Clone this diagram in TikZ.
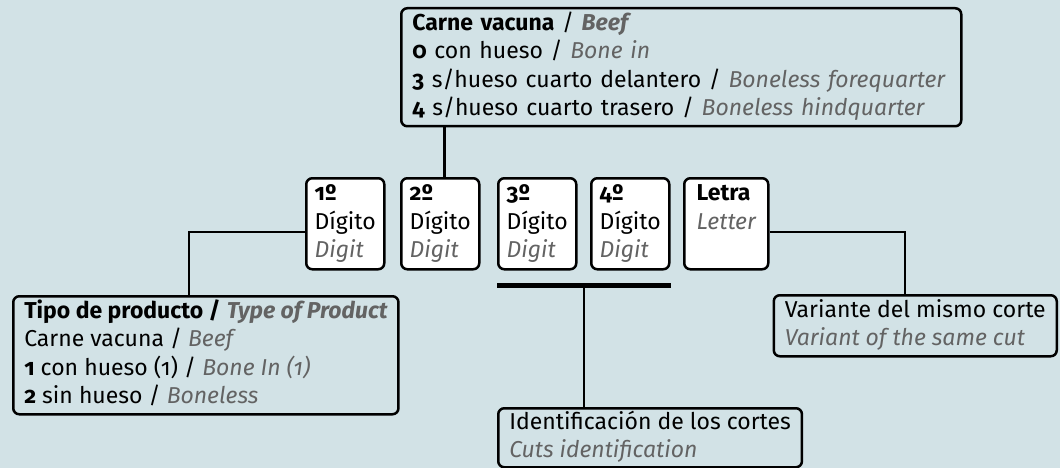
\documentclass[tikz,border=0pt]{standalone}
\usepackage{fontspec}
\setmainfont{Fira Sans}[Numbers=OldStyle]
\usetikzlibrary{calc}
\definecolor{bg}{HTML}{D2E2E6}
\definecolor{txtgray}{HTML}{636363}
\newcommand\gi[1]{\textcolor{txtgray}{\itshape #1}}
\newcommand\gb[1]{\textcolor{txtgray}{\bfseries\itshape #1}}
\begin{document}
\begin{tikzpicture}[x=1pt,y=-1pt,
  box/.style={draw, line width=2.5pt, rounded corners=6pt, align=left,
    inner xsep=11pt, inner ysep=2pt, anchor=north west,
    font=\fontsize{23}{28.5}\selectfont},
  dbox/.style={box, fill=white, minimum width=78pt, minimum height=91pt, inner xsep=4pt},
  conn/.style={line width=2.5pt},
  barline/.style={line width=5pt}]
\fill[bg] (0,0) rectangle (1060,468);
\useasboundingbox (0,0) rectangle (1060,468);

\node[box, text width=538pt] (beef) at (400,7) {\strut\textbf{Carne vacuna} / \gb{Beef}\\
\strut\textbf{0} con hueso / \gi{Bone in}\\
\strut\textbf{3} s/hueso cuarto delantero / \gi{Boneless forequarter}\\
\strut\textbf{4} s/hueso cuarto trasero / \gi{Boneless hindquarter}};

\node[dbox] (d1) at (305,177) {\strut\textbf{1º}\\\strut Dígito\\\strut\gi{Digit}};
\node[dbox] (d2) at (400,177) {\strut\textbf{2º}\\\strut Dígito\\\strut\gi{Digit}};
\node[dbox] (d3) at (497,177) {\strut\textbf{3º}\\\strut Dígito\\\strut\gi{Digit}};
\node[dbox] (d4) at (590,177) {\strut\textbf{4º}\\\strut Dígito\\\strut\gi{Digit}};
\node[dbox, minimum width=84pt] (let) at (683,177) {\strut\textbf{Letra}\\\strut\gi{Letter}\\\strut};

\node[box] (tipo) at (12,295) {\strut\textbf{Tipo de producto /} \gb{Type of Product}\\
\strut Carne vacuna / \gi{Beef}\\
\strut\textbf{1} con hueso (1) / \gi{Bone In (1)}\\
\strut\textbf{2} sin hueso / \gi{Boneless}};

\node[box, anchor=north east] (var) at (1058,294) {\strut Variante del mismo corte\\\strut\gi{Variant of the same cut}};

\node[box, inner ysep=1pt] (ident) at (497,407) {\strut Identificación de los cortes\\\strut\gi{Cuts identification}};

% connectors
\draw[conn] ([xshift=4pt]d2.north) -- ([xshift=4pt]d2.north |- beef.south);
\coordinate (lk) at (189,232);
\draw[conn] (lk -| d1.west) -- (lk) -- (lk |- tipo.north);
\coordinate (rk) at (905,232);
\draw[conn] (rk -| let.east) -- (rk) -- (rk |- var.north);
\coordinate (bl) at ([yshift=-15pt]d3.south west);
\coordinate (br) at ([yshift=-15pt]d4.south east);
\draw[barline] (bl) -- (br);
\coordinate (bm) at ($(bl)!0.5!(br)$);
\draw[conn] (bm) -- (bm |- ident.north);
\end{tikzpicture}
\end{document}
